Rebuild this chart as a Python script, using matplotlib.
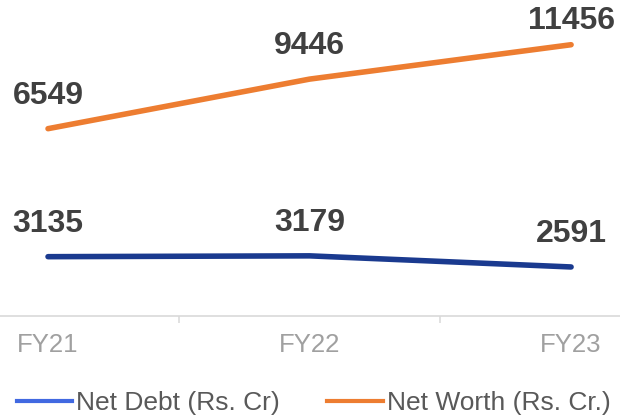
import matplotlib.pyplot as plt
from matplotlib.lines import Line2D

# data
years = ["FY21", "FY22", "FY23"]
net_debt = [3135, 3179, 2591]
net_worth = [6549, 9446, 11456]

debt_label = "Net Debt (Rs. Cr)"
worth_label = "Net Worth (Rs. Cr.)"

plt.rcParams['font.family'] = ['Liberation Sans', 'DejaVu Sans']

fig = plt.figure(figsize=(6.2, 4.18), dpi=100)
# plot area runs off the left/right edge like the cropped original
ax = fig.add_axes([0, 102 / 418, 1, 316 / 418])
ax2 = ax.twinx()

x = list(range(len(years)))
ax.plot(x, net_debt, color="#1a3a8f", lw=4, solid_capstyle="round", zorder=3)
ax2.plot(x, net_worth, color="#ed7d31", lw=4, solid_capstyle="round", zorder=3)

ax.set_xlim(-0.1836, 2.187)
ax.set_ylim(0, 16700)
ax2.set_ylim(-4400, 14070)

lab_style = dict(ha="center", va="bottom", fontsize=23, fontweight="bold",
                 color="#404040", textcoords="offset points")
for i, v in enumerate(net_debt):
    ax.annotate(str(v), (i, v), xytext=(0, 13), **lab_style)
worth_offsets = [13, 13, 6]
for i, v in enumerate(net_worth):
    ax2.annotate(str(v), (i, v), xytext=(0, worth_offsets[i]), **lab_style)

for a in (ax, ax2):
    for s in a.spines.values():
        s.set_visible(False)
ax2.set_yticks([])
ax.set_yticks([])

ax.spines["bottom"].set_visible(True)
ax.spines["bottom"].set_color("#d9d9d9")
ax.spines["bottom"].set_linewidth(1.2)
ax.set_xticks(x)
ax.set_xticklabels(years)
ax.set_xticks([0.5, 1.5], minor=True)
ax.tick_params(axis="x", which="major", length=0, pad=12.5,
               labelsize=18.5, labelcolor="#a0a0a0")
ax.tick_params(axis="x", which="minor", length=5, width=1.1, color="#d9d9d9")

handles = [Line2D([], [], color="#4169e1", lw=3),
           Line2D([], [], color="#ed7d31", lw=3)]
fig.legend(handles, [debt_label, worth_label], loc="center",
           bbox_to_anchor=(0.506, 0.035), ncol=2, frameon=False,
           fontsize=19, labelcolor="#595959", handlelength=2.1,
           handletextpad=0.15, columnspacing=1.8, borderpad=0)

fig.savefig("out.png", dpi=100)
